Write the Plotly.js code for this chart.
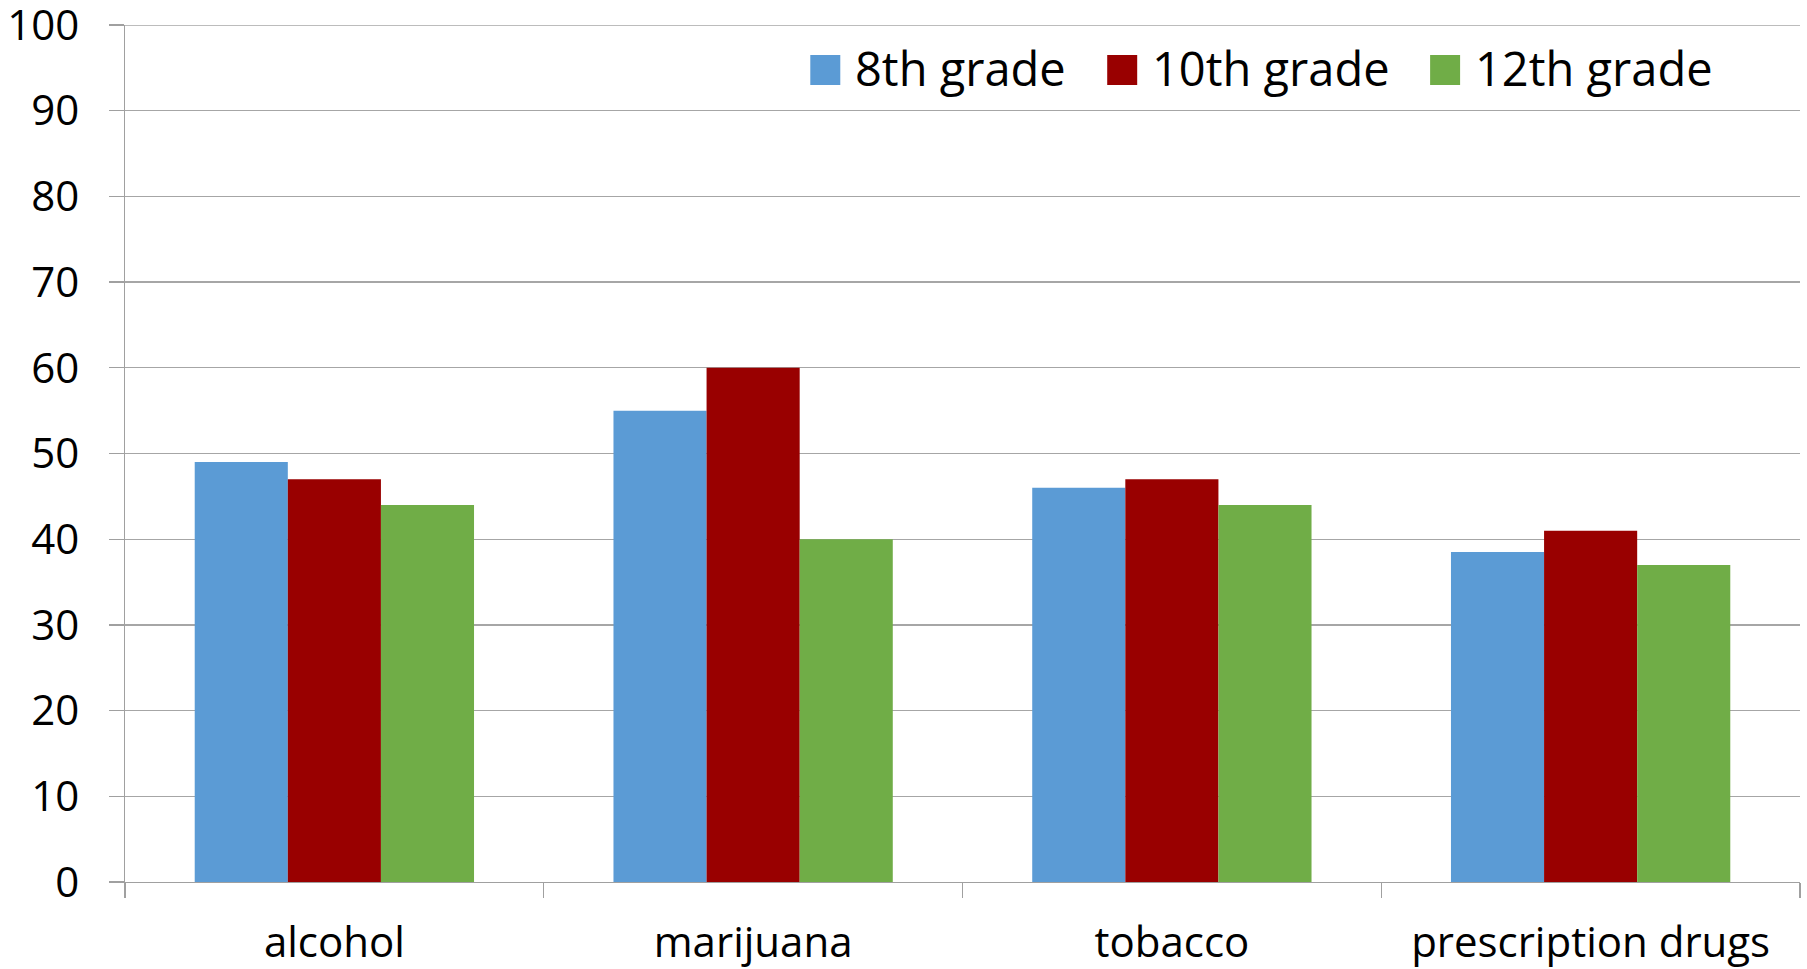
<!DOCTYPE html>
<html>
<head>
<meta charset="utf-8">
<script src="https://cdn.plot.ly/plotly-3.0.1.min.js"></script>
<style>html,body{margin:0;padding:0;background:#fff;}#chart{width:1807px;height:969px;}</style>
</head>
<body>
<div id="chart"></div>
<script>
// ---- data ----
const categories = ["alcohol", "marijuana", "tobacco", "prescription drugs"];
const seriesNames = ["8th grade", "10th grade", "12th grade"];
const grade8 = [49, 55, 46, 38.5];
const grade10 = [47, 60, 47, 41];
const grade12 = [44, 40, 44, 37];
const yTickValues = [0, 10, 20, 30, 40, 50, 60, 70, 80, 90, 100];

// ---- styling ----
const colors = ["#5B9BD5", "#990000", "#70AD47"];
const W = 1807, H = 969;
const M = {l: 124.5, r: 7, t: 25, b: 87};
const FONT = "Open Sans, Noto Sans, sans-serif";
const plotW = W - M.l - M.r, plotH = H - M.t - M.b;
const px2x = px => (px - M.l) / plotW;
const py2y = py => (H - M.b - py) / plotH;
const GRID = "#a6a6a6";

const values = [grade8, grade10, grade12];
const traces = values.map((v, i) => ({
  type: "bar",
  name: seriesNames[i],
  x: categories,
  y: v,
  marker: {color: colors[i], line: {width: 0}},
  showlegend: false,
  hoverinfo: "x+y+name"
}));

// custom legend (large square swatches like the reference)
const legendSwatchLeft = [810, 1107, 1430];
const swatchSize = 30, legendCenterY = 70, legendTextY = 68;
const shapes = [
  // top gridline at the range end (Plotly drops grid lines at the plot edge)
  {type: "line", xref: "paper", yref: "y", x0: 0, x1: 1, y0: yTickValues[yTickValues.length - 1], y1: yTickValues[yTickValues.length - 1],
   line: {color: GRID, width: 1.3}, layer: "below"}
];
const annotations = [];
seriesNames.forEach((n, i) => {
  const x0 = legendSwatchLeft[i];
  shapes.push({type: "rect", xref: "paper", yref: "paper",
    x0: px2x(x0), x1: px2x(x0 + swatchSize),
    y0: py2y(legendCenterY + swatchSize / 2), y1: py2y(legendCenterY - swatchSize / 2),
    fillcolor: colors[i], line: {width: 0}});
  annotations.push({xref: "paper", yref: "paper", x: px2x(x0 + swatchSize + 13), y: py2y(legendTextY),
    xanchor: "left", yanchor: "middle", text: n, showarrow: false,
    font: {family: FONT, size: 47, color: "#000"}});
});

const layout = {
  width: W, height: H,
  margin: M,
  paper_bgcolor: "#fff", plot_bgcolor: "#fff",
  font: {family: FONT, size: 42, color: "#000"},
  barmode: "group",
  bargap: 0.333, bargroupgap: 0,
  showlegend: false,
  xaxis: {
    type: "category",
    showline: true, linecolor: "#a0a0a0", linewidth: 1.3,
    ticks: "outside", tickson: "boundaries", ticklen: 15, tickcolor: "#a0a0a0", tickwidth: 1.3,
    showgrid: false, zeroline: false,
    tickfont: {family: FONT, size: 42, color: "#000"},
    ticklabelstandoff: 23,
    ticklabeloverflow: "allow"
  },
  yaxis: {
    range: [0, 100], tickvals: yTickValues, ticktext: yTickValues.map(String),
    showline: true, linecolor: "#a0a0a0", linewidth: 1.3,
    ticks: "outside", ticklen: 15, tickcolor: "#a0a0a0", tickwidth: 1.3,
    showgrid: true, gridcolor: GRID, gridwidth: 1.3,
    zeroline: false,
    tickfont: {family: FONT, size: 42, color: "#000"},
    ticklabelstandoff: 21,
    ticklabeloverflow: "allow"
  },
  shapes: shapes,
  annotations: annotations
};

Plotly.newPlot("chart", traces, layout, {displayModeBar: false, staticPlot: true});
</script>
</body>
</html>
